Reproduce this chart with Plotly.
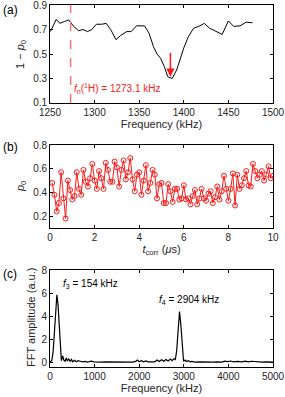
import plotly.graph_objects as go

# ---------------- data ----------------
freq_a = [1250, 1251, 1257, 1261, 1266, 1271, 1276, 1282, 1287, 1292, 1297, 1302, 1308,
          1313, 1318, 1324, 1329, 1336, 1341, 1347, 1356, 1361, 1366, 1370, 1374, 1378,
          1382, 1387, 1392, 1396, 1400, 1405, 1411, 1418, 1423, 1429, 1437, 1443, 1450,
          1456, 1463, 1470, 1477]
one_minus_p0 = [0.683, 0.69, 0.783, 0.75, 0.765, 0.778, 0.73, 0.69, 0.70, 0.683, 0.70, 0.743,
                0.743, 0.75, 0.70, 0.617, 0.65, 0.683, 0.683, 0.73, 0.73, 0.67, 0.56, 0.50,
                0.465, 0.40, 0.315, 0.30, 0.37, 0.46, 0.55, 0.64, 0.71, 0.73, 0.75, 0.71,
                0.68, 0.66, 0.77, 0.725, 0.73, 0.76, 0.755]
fn_1H = 1273.1
dip_freq = 1385

t_corr = [round(0.1 * (i + 1), 1) for i in range(100)]
p0 = [0.48, 0.38, 0.24, 0.31, 0.57, 0.35, 0.18, 0.50, 0.42, 0.34,
      0.37, 0.57, 0.43, 0.38, 0.59, 0.49, 0.45, 0.52, 0.64, 0.50,
      0.43, 0.58, 0.52, 0.43, 0.65, 0.59, 0.49, 0.49, 0.66, 0.61,
      0.45, 0.59, 0.67, 0.51, 0.57, 0.69, 0.51, 0.41, 0.55, 0.57,
      0.38, 0.50, 0.63, 0.41, 0.48, 0.59, 0.55, 0.35, 0.47, 0.48,
      0.31, 0.31, 0.47, 0.41, 0.32, 0.43, 0.43, 0.34, 0.35, 0.46,
      0.34, 0.35, 0.30, 0.37, 0.42, 0.30, 0.35, 0.43, 0.35, 0.33,
      0.39, 0.41, 0.31, 0.36, 0.45, 0.34, 0.41, 0.54, 0.43, 0.33,
      0.43, 0.56, 0.29, 0.55, 0.43, 0.46, 0.52, 0.58, 0.46, 0.45,
      0.64, 0.58, 0.52, 0.55, 0.58, 0.50, 0.55, 0.62, 0.52, 0.54]

fft_freq = [0, 40, 70, 100, 125, 154, 180, 205, 230, 255, 285, 310, 340, 365, 390, 420,
            450, 480, 510, 550, 590, 630, 680, 730, 780, 830, 880, 930, 980, 1050, 1150,
            1250, 1350, 1450, 1550, 1650, 1750, 1850, 1920, 1960, 2000, 2050, 2100, 2150,
            2200, 2280, 2350, 2400, 2450, 2500, 2550, 2600, 2650, 2700, 2740, 2780, 2810,
            2840, 2870, 2904, 2935, 2965, 2995, 3030, 3060, 3100, 3140, 3180, 3250, 3350,
            3450, 3550, 3650, 3750, 3850, 3920, 3980, 4050, 4120, 4200, 4300, 4380, 4450,
            4520, 4600, 4680, 4750, 4850, 4950, 5000]
fft_amp = [0.02, 0.15, 0.9, 2.9, 4.8, 5.85, 5.0, 3.0, 1.0, 0.15, 0.55, 0.2, 0.1, 0.38,
           0.12, 0.3, 0.08, 0.25, 0.05, 0.18, 0.05, 0.15, 0.1, 0.05, 0.08, 0.03, 0.06,
           0.1, 0.04, 0.06, 0.03, 0.05, 0.04, 0.05, 0.03, 0.05, 0.04, 0.03, 0.08, 0.2,
           0.05, 0.15, 0.05, 0.12, 0.04, 0.06, 0.05, 0.2, 0.08, 0.22, 0.1, 0.25, 0.12,
           0.28, 0.15, 0.32, 0.25, 1.0, 3.0, 4.4, 3.2, 1.2, 0.1, 0.2, 0.08, 0.15, 0.05,
           0.08, 0.03, 0.04, 0.02, 0.03, 0.02, 0.04, 0.03, 0.1, 0.06, 0.12, 0.05, 0.08,
           0.04, 0.1, 0.05, 0.1, 0.06, 0.08, 0.03, 0.05, 0.02, 0.02]
f3, f4 = 154, 2904

# ---------------- figure ----------------
FONT = "Liberation Sans, Arial, sans-serif"
TICKC = "#262626"
RED = "#FF1A1A"

fig = go.Figure()

fig.add_trace(go.Scatter(x=freq_a, y=one_minus_p0, mode="lines",
                         line=dict(color="black", width=1), xaxis="x", yaxis="y",
                         showlegend=False))
fig.add_trace(go.Scatter(x=[fn_1H, fn_1H], y=[0.1, 0.9], mode="lines",
                         line=dict(color="#F47777", width=1.5, dash="dash"),
                         xaxis="x", yaxis="y", showlegend=False))
fig.add_trace(go.Scatter(x=t_corr, y=p0, mode="lines+markers",
                         line=dict(color=RED, width=1),
                         marker=dict(symbol="circle-open", size=5, color=RED,
                                     line=dict(width=1, color=RED)),
                         xaxis="x2", yaxis="y2", showlegend=False))
fig.add_trace(go.Scatter(x=fft_freq, y=fft_amp, mode="lines",
                         line=dict(color="black", width=1.2), xaxis="x3", yaxis="y3",
                         showlegend=False))

W, H = 285.0, 397.0
xdom = [50 / W, 273 / W]
def ydom(top, bot):
    return [1 - bot / H, 1 - top / H]

axis_common = dict(showline=True, linecolor="black", linewidth=0.8, mirror="ticks",
                   ticks="inside", ticklen=3, tickcolor="black", tickwidth=0.8,
                   showgrid=False, zeroline=False, automargin=False,
                   ticklabeloverflow="allow",
                   tickfont=dict(family=FONT, size=10, color=TICKC))
title_font = dict(family=FONT, size=11, color=TICKC)

fig.update_layout(
    width=285, height=397, margin=dict(l=0, r=0, t=0, b=0),
    paper_bgcolor="white", plot_bgcolor="white",
    font=dict(family=FONT, color=TICKC),
    xaxis=dict(domain=xdom, anchor="y", range=[1250, 1500], tickvals=[1250, 1300, 1350, 1400, 1450, 1500],
               title=dict(text="Frequency (kHz)", font=title_font, standoff=2), **axis_common),
    yaxis=dict(domain=ydom(5, 103), anchor="x", range=[0.0999, 0.9001],
               tickvals=[0.1, 0.3, 0.5, 0.7, 0.9], ticktext=["0.1", "0.3", "0.5", "0.7", "0.9"],
               **axis_common),
    xaxis2=dict(domain=xdom, anchor="y2", range=[0, 10], tickvals=[0, 2, 4, 6, 8, 10],
                title=dict(text="<i>t</i><sub>corr</sub> (<i>μ</i>s)", font=title_font, standoff=2),
                **axis_common),
    yaxis2=dict(domain=ydom(145, 228), anchor="x2", range=[0.1, 0.8001],
                tickvals=[0.2, 0.4, 0.6, 0.8], ticktext=["0.2", "0.4", "0.6", "0.8"],
                **axis_common),
    xaxis3=dict(domain=xdom, anchor="y3", range=[0, 5000], tickvals=[0, 1000, 2000, 3000, 4000, 5000],
                ticktext=["0", "1000", "2000", "3000", "4000", "5000"],
                title=dict(text="Frequency (kHz)", font=title_font, standoff=2), **axis_common),
    yaxis3=dict(domain=ydom(270, 367), anchor="x3", range=[-0.4, 8.001],
                tickvals=[0, 2, 4, 6, 8], ticktext=["0", "2", "4", "6", "8"],
                **axis_common),
)

ann = []
# panel labels
for lbl, yp in [("(a)", 10), ("(b)", 147), ("(c)", 274)]:
    ann.append(dict(text=lbl, x=1 / W, y=1 - yp / H, xref="paper", yref="paper",
                    xanchor="left", yanchor="middle", showarrow=False,
                    font=dict(family=FONT, size=12, color="black")))
# y-axis titles
for txt, xp, yp in [("1 − <i>p</i><sub>0</sub>", 21, 54),
                    ("<i>p</i><sub>0</sub>", 21, 186),
                    ("FFT amplitude (a.u.)", 31, 318)]:
    ann.append(dict(text=txt, x=xp / W, y=1 - yp / H, xref="paper", yref="paper",
                    xanchor="center", yanchor="middle", textangle=-90, showarrow=False,
                    font=title_font))
# arrow in (a)
ann.append(dict(x=dip_freq, y=0.315, ax=dip_freq, ay=0.52, xref="x", yref="y", axref="x", ayref="y",
                showarrow=True, arrowhead=2, arrowsize=1.1, arrowwidth=1.5, arrowcolor=RED, text=""))
ann.append(dict(text="<i>f</i><sub>n</sub>(<sup>1</sup>H) = 1273.1 kHz", x=1275, y=0.215,
                xref="x", yref="y", xanchor="left", yanchor="middle", showarrow=False,
                font=dict(family=FONT, size=10, color=RED)))
ann.append(dict(text="<i>f</i><sub>3</sub> = 154 kHz", x=245, y=6.75, xref="x3", yref="y3",
                xanchor="left", yanchor="middle", showarrow=False,
                font=dict(family=FONT, size=10, color="black")))
ann.append(dict(text="<i>f</i><sub>4</sub> = 2904 kHz", x=2390, y=5.4, xref="x3", yref="y3",
                xanchor="left", yanchor="middle", showarrow=False,
                font=dict(family=FONT, size=10, color="black")))
fig.update_layout(annotations=ann)

fig.write_html("out.html", config={"displayModeBar": False},
               post_script="document.body.style.margin='0';document.body.style.overflow='hidden';")
